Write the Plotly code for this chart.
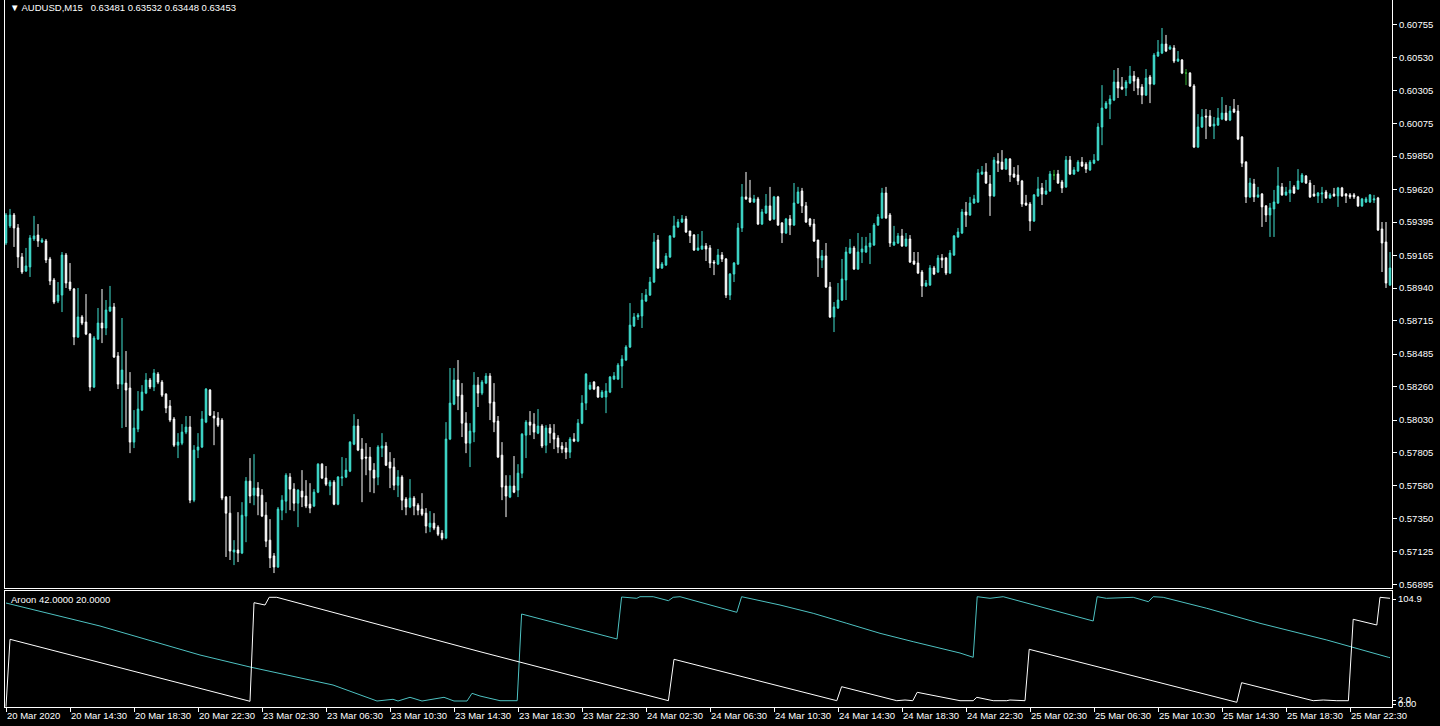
import plotly.graph_objects as go

# ---------------- data (prices in points, 1 point = 0.00001) ----------------
OPEN_PTS = [
    59251, 59369, 59444, 59355, 59155, 59058, 59086, 59279, 59306, 59258,
    59265, 59141, 58996, 58851, 58892, 59168, 58982, 58934, 58603, 58741,
    58706, 58623, 58258, 58589, 58699, 58665, 58782, 58810, 58472, 58278,
    58285, 58251, 57878, 57968, 58099, 58216, 58306, 58258, 58347, 58292,
    58209, 58127, 58037, 57857, 57871, 57947, 57982, 57478, 57823, 57844,
    58016, 58237, 58058, 58044, 58030, 57499, 57388, 57120, 57134, 57113,
    57368, 57609, 57512, 57561, 57512, 57374, 57202, 57093, 57017, 57409,
    57471, 57637, 57554, 57457, 57540, 57506, 57450, 57437, 57533, 57726,
    57630, 57575, 57602, 57450, 57630, 57637, 57678, 57864, 57989, 57830,
    57775, 57775, 57685, 57637, 57837, 57851, 57740, 57706, 57581, 57637,
    57485, 57430, 57492, 57443, 57416, 57388, 57292, 57319, 57292, 57250,
    57216, 57899, 58140, 58306, 58202, 58009, 57871, 57947, 58271, 58216,
    58285, 58334, 58154, 58023, 57788, 57575, 57499, 57575, 57547, 57664,
    57926, 58016, 58002, 57940, 57989, 57857, 57975, 57940, 57906, 57851,
    57837, 57809, 57899, 57885, 58009, 58147, 58244, 58292, 58258, 58189,
    58189, 58223, 58313, 58313, 58403, 58444, 58534, 58679, 58741, 58748,
    58851, 58892, 58982, 59272, 59079, 59099, 59155, 59293, 59362, 59396,
    59417, 59334, 59306, 59203, 59210, 59231, 59217, 59120, 59106, 59168,
    59141, 58892, 59037, 59106, 59355, 59569, 59562, 59534, 59555, 59382,
    59458, 59507, 59417, 59569, 59389, 59320, 59417, 59375, 59527, 59610,
    59507, 59417, 59382, 59272, 59134, 59162, 58948, 58741, 58803, 58858,
    58996, 59182, 59217, 59072, 59189, 59189, 59224, 59237, 59375, 59424,
    59596, 59444, 59237, 59251, 59300, 59231, 59279, 59127, 59113, 59051,
    58955, 58961, 59079, 59051, 59148, 59148, 59044, 59168, 59293, 59320,
    59465, 59444, 59527, 59534, 59727, 59741, 59658, 59576, 59816, 59809,
    59761, 59830, 59727, 59720, 59679, 59527, 59520, 59403, 59576, 59631,
    59589, 59610, 59720, 59727, 59672, 59638, 59823, 59727, 59748, 59809,
    59795, 59755, 59802, 59823, 60051, 60182, 60209, 60237, 60361, 60327,
    60320, 60354, 60403, 60382, 60327, 60271, 60396, 60347, 60541, 60561,
    60623, 60589, 60596, 60506, 60513, 60423, 60423, 60334, 59913, 60051,
    60127, 60127, 60058, 60065, 60106, 60147, 60099, 60175, 60161, 59982,
    59809, 59569, 59658, 59569, 59589, 59507, 59444, 59486, 59527, 59638,
    59583, 59596, 59638, 59624, 59672, 59713, 59665, 59589, 59576, 59589,
    59603, 59562, 59589, 59576, 59631, 59589, 59583, 59583, 59569, 59507,
    59534, 59534, 59548, 59562, 59348, 59258, 58961,
]
HIGH_PTS = [
    59458, 59486, 59458, 59382, 59182, 59217, 59306, 59438, 59382, 59286,
    59279, 59155, 59010, 58982, 59189, 59182, 59113, 58941, 58941, 58754,
    58899, 58630, 58610, 58803, 58934, 58858, 58955, 58837, 58499, 58734,
    58506, 58361, 58099, 58230, 58271, 58354, 58320, 58382, 58361, 58306,
    58216, 58168, 58051, 57940, 58002, 58058, 58058, 57857, 57940, 58092,
    58251, 58244, 58092, 58085, 58044, 57506, 57506, 57202, 57395, 57464,
    57637, 57768, 57795, 57602, 57554, 57464, 57347, 57113, 57430, 57512,
    57664, 57664, 57595, 57554, 57685, 57616, 57595, 57554, 57733, 57733,
    57713, 57616, 57616, 57644, 57775, 57768, 57885, 58071, 58037, 57906,
    57871, 57844, 57733, 57857, 57940, 57878, 57809, 57768, 57685, 57650,
    57499, 57623, 57506, 57457, 57526, 57423, 57402, 57388, 57305, 57271,
    58016, 58389, 58389, 58444, 58285, 58085, 58009, 58361, 58327, 58306,
    58354, 58354, 58285, 58058, 57878, 57650, 57650, 57782, 57726, 57940,
    58030, 58092, 58078, 58106, 58002, 57995, 58002, 58002, 57926, 57878,
    57878, 57913, 57940, 58037, 58202, 58354, 58292, 58299, 58265, 58237,
    58285, 58334, 58361, 58423, 58478, 58547, 58837, 58768, 58768, 58906,
    58934, 59017, 59320, 59306, 59120, 59182, 59306, 59438, 59417, 59444,
    59438, 59334, 59313, 59313, 59334, 59251, 59237, 59134, 59210, 59189,
    59148, 59044, 59120, 59389, 59658, 59741, 59686, 59583, 59569, 59486,
    59589, 59638, 59576, 59576, 59396, 59424, 59444, 59665, 59638, 59631,
    59534, 59424, 59417, 59272, 59203, 59251, 58982, 58844, 58975, 59141,
    59224, 59279, 59231, 59320, 59293, 59293, 59320, 59389, 59451, 59631,
    59638, 59458, 59369, 59320, 59348, 59320, 59306, 59189, 59189, 59065,
    58996, 59099, 59093, 59168, 59175, 59155, 59203, 59306, 59355, 59486,
    59534, 59569, 59583, 59761, 59782, 59802, 59720, 59844, 59871, 59892,
    59837, 59837, 59775, 59788, 59686, 59583, 59534, 59589, 59707, 59665,
    59686, 59748, 59755, 59755, 59686, 59851, 59851, 59775, 59823, 59844,
    59809, 59823, 59864, 60078, 60340, 60230, 60271, 60444, 60458, 60396,
    60375, 60472, 60437, 60396, 60347, 60451, 60410, 60561, 60651, 60734,
    60686, 60616, 60616, 60575, 60520, 60451, 60430, 60347, 60140, 60175,
    60175, 60168, 60120, 60182, 60258, 60203, 60196, 60244, 60203, 59989,
    59816, 59700, 59693, 59638, 59596, 59513, 59527, 59617, 59775, 59665,
    59638, 59679, 59651, 59761, 59734, 59720, 59686, 59651, 59603, 59638,
    59617, 59596, 59631, 59638, 59638, 59596, 59596, 59596, 59576, 59562,
    59569, 59589, 59583, 59569, 59396, 59396, 59189,
]
LOW_PTS = [
    59237, 59355, 59224, 59079, 59037, 59051, 59017, 59265, 59224, 59251,
    59113, 58961, 58830, 58837, 58775, 58941, 58920, 58547, 58596, 58685,
    58616, 58230, 58251, 58582, 58561, 58616, 58775, 58458, 58244, 57975,
    57982, 57802, 57837, 57947, 58092, 58209, 58244, 58230, 58278, 58189,
    58078, 58016, 57844, 57768, 57857, 57933, 57457, 57464, 57768, 57837,
    58009, 58058, 57857, 57982, 57478, 57086, 57065, 57030, 57051, 57106,
    57188, 57457, 57443, 57374, 57361, 57154, 57010, 56975, 57010, 57340,
    57388, 57409, 57402, 57292, 57430, 57423, 57388, 57430, 57526, 57623,
    57575, 57512, 57443, 57443, 57575, 57630, 57671, 57857, 57816, 57464,
    57650, 57533, 57526, 57581, 57775, 57713, 57561, 57547, 57499, 57409,
    57374, 57423, 57374, 57374, 57368, 57250, 57257, 57271, 57230, 57202,
    57209, 57892, 58133, 58099, 57913, 57802, 57706, 57878, 58120, 58202,
    58278, 58030, 57947, 57768, 57478, 57361, 57492, 57526, 57499, 57630,
    57768, 57926, 57899, 57933, 57837, 57802, 57871, 57830, 57802, 57802,
    57761, 57768, 57878, 57878, 58002, 58099, 58237, 58237, 58182, 58182,
    58078, 58216, 58306, 58306, 58251, 58437, 58527, 58672, 58720, 58665,
    58844, 58886, 58975, 59072, 59072, 59093, 59148, 59286, 59355, 59389,
    59320, 59251, 59196, 59196, 59203, 59127, 59079, 59030, 59099, 59120,
    58872, 58858, 58982, 59099, 59327, 59548, 59527, 59527, 59375, 59375,
    59451, 59403, 59410, 59369, 59251, 59313, 59306, 59369, 59520, 59458,
    59389, 59362, 59258, 59017, 59079, 58941, 58734, 58637, 58796, 58851,
    58858, 59175, 59065, 59065, 59113, 59182, 59106, 59231, 59369, 59417,
    59417, 59224, 59231, 59244, 59224, 59224, 59113, 59099, 59037, 58879,
    58948, 58955, 59030, 59044, 59079, 59030, 59037, 59162, 59286, 59313,
    59362, 59438, 59520, 59527, 59720, 59658, 59438, 59569, 59741, 59755,
    59755, 59672, 59700, 59651, 59500, 59507, 59334, 59396, 59569, 59513,
    59583, 59603, 59686, 59658, 59596, 59631, 59720, 59720, 59741, 59775,
    59734, 59748, 59795, 59816, 59926, 60175, 60106, 60230, 60251, 60306,
    60265, 60347, 60299, 60271, 60209, 60265, 60216, 60340, 60534, 60554,
    60568, 60582, 60492, 60499, 60416, 60340, 60327, 59906, 59906, 60044,
    59968, 60051, 59968, 60058, 60099, 60092, 60092, 60147, 59961, 59775,
    59527, 59562, 59534, 59562, 59362, 59396, 59293, 59293, 59520, 59576,
    59576, 59534, 59589, 59617, 59665, 59658, 59562, 59569, 59527, 59527,
    59555, 59555, 59569, 59500, 59569, 59527, 59555, 59555, 59500, 59500,
    59527, 59527, 59527, 59334, 59051, 58941, 58955,
]
CLOSE_PTS = [
    59444, 59444, 59355, 59155, 59051, 59093, 59286, 59300, 59265, 59272,
    59134, 58989, 58844, 58892, 59168, 58975, 58934, 58603, 58741, 58699,
    58623, 58258, 58596, 58699, 58665, 58789, 58810, 58465, 58278, 58375,
    58237, 57878, 57975, 58106, 58223, 58306, 58258, 58354, 58292, 58202,
    58113, 58030, 57857, 57878, 57947, 57982, 57478, 57823, 57844, 58037,
    58244, 58064, 58044, 57995, 57492, 57388, 57127, 57134, 57113, 57374,
    57609, 57506, 57561, 57506, 57368, 57195, 57079, 57017, 57416, 57478,
    57650, 57554, 57457, 57547, 57499, 57437, 57423, 57533, 57726, 57630,
    57588, 57602, 57450, 57637, 57637, 57685, 57878, 57989, 57823, 57761,
    57768, 57685, 57630, 57844, 57851, 57719, 57699, 57581, 57637, 57478,
    57430, 57492, 57437, 57409, 57381, 57299, 57319, 57285, 57243, 57216,
    57899, 58147, 58306, 58196, 58009, 57871, 57954, 58271, 58216, 58292,
    58334, 58147, 58016, 57775, 57568, 57506, 57575, 57533, 57664, 57933,
    58016, 57995, 57947, 57989, 57851, 57975, 57940, 57899, 57844, 57830,
    57809, 57899, 57885, 58009, 58147, 58347, 58271, 58244, 58189, 58223,
    58230, 58327, 58334, 58409, 58451, 58534, 58685, 58741, 58754, 58858,
    58892, 58982, 59258, 59079, 59106, 59162, 59300, 59369, 59396, 59417,
    59327, 59300, 59203, 59217, 59231, 59210, 59113, 59113, 59168, 59141,
    58892, 59037, 59113, 59355, 59569, 59555, 59534, 59555, 59382, 59465,
    59507, 59410, 59569, 59375, 59320, 59417, 59375, 59527, 59603, 59507,
    59396, 59375, 59265, 59148, 59162, 58948, 58741, 58810, 58858, 59003,
    59189, 59217, 59072, 59189, 59210, 59231, 59251, 59375, 59431, 59596,
    59424, 59251, 59258, 59300, 59231, 59279, 59120, 59106, 59044, 58955,
    58975, 59079, 59037, 59148, 59134, 59044, 59182, 59300, 59327, 59465,
    59444, 59527, 59555, 59734, 59741, 59665, 59576, 59823, 59802, 59761,
    59830, 59720, 59706, 59679, 59520, 59513, 59403, 59583, 59624, 59589,
    59610, 59727, 59720, 59665, 59631, 59823, 59727, 59755, 59809, 59782,
    59761, 59809, 59823, 60051, 60182, 60216, 60244, 60361, 60320, 60313,
    60361, 60403, 60368, 60320, 60271, 60389, 60347, 60547, 60568, 60623,
    60575, 60603, 60506, 60520, 60423, 60423, 60334, 59913, 60051, 60120,
    60120, 60058, 60071, 60113, 60147, 60099, 60161, 60154, 59968, 59802,
    59569, 59665, 59569, 59583, 59500, 59444, 59493, 59534, 59645, 59583,
    59603, 59617, 59596, 59679, 59720, 59665, 59569, 59576, 59596, 59596,
    59562, 59583, 59576, 59631, 59576, 59576, 59569, 59569, 59507, 59555,
    59555, 59583, 59555, 59341, 59251, 58975, 59079,
]

# Aroon indicator (line vertices: bar index, value)
AROON_UP_BARS = [0, 23.5, 48.5, 61, 81.75, 92.75, 96.75, 98, 101, 104, 109.5, 112, 115.25,
                 116.5, 118.5, 123.5, 127.8, 128.9, 152.75, 153.9, 157.7, 158.5, 161.8, 165.6,
                 166.8, 168.5, 182.7, 183.9, 193.5, 201.8, 210.2, 218.5, 226.8, 238.5, 241.8,
                 242.8, 246, 249.3, 271.8, 272.8, 275.1, 281.8, 285.6, 286.8, 289.3, 300.2,
                 313.5, 330.2, 345.6, 346]
AROON_UP_VALS = [101, 78, 49, 37, 19, 3, 4.7, 3, 6.7, 3, 6.7, 3, 3,
                 10.7, 8, 3.3, 3.3, 90, 65, 107, 105.7, 107.3, 107.3, 103.3,
                 106.7, 107.3, 91.7, 107.3, 99, 90.7, 80.7, 70.7, 62.3, 51, 46.7,
                 107.3, 105.7, 107.3, 83, 107.3, 105.7, 106.7, 102.3, 107.3, 106.7, 95.7,
                 80.7, 64, 46.7, 46.3]
AROON_DN_BARS = [0, 1, 61, 62, 64.75, 65.8, 67.7, 118.5, 165.6, 167, 207.7, 208.9, 222.7,
                 224.75, 226.7, 227.8, 238.5, 241.8, 242.7, 246.8, 250.2, 251, 254.75, 255.8,
                 307.7, 308.9, 326.8, 329.3, 332.7, 335.6, 336.8, 342.7, 343.5, 345.6, 346]
AROON_DN_VALS = [-2.7, 64.7, 2.7, 101.3, 99, 106.7, 106.7, 52.3, 3.3, 44.7, 3.3, 17.3, 3.3,
                 4, 3.3, 11.7, 3.3, 3.3, 6.7, 3.3, 3.3, 4, 3.3, 54.7,
                 1.7, 21.3, 3.3, 4, 3.3, 3.3, 84.7, 79, 106.7, 105.7, 105.7]

X_TICK_LABELS = ["20 Mar 2020", "20 Mar 14:30", "20 Mar 18:30", "20 Mar 22:30",
                 "23 Mar 02:30", "23 Mar 06:30", "23 Mar 10:30", "23 Mar 14:30",
                 "23 Mar 18:30", "23 Mar 22:30", "24 Mar 02:30", "24 Mar 06:30",
                 "24 Mar 10:30", "24 Mar 14:30", "24 Mar 18:30", "24 Mar 22:30",
                 "25 Mar 02:30", "25 Mar 06:30", "25 Mar 10:30", "25 Mar 14:30",
                 "25 Mar 18:30", "25 Mar 22:30"]
BARS_PER_LABEL = 16
PRICE_TICKS = [0.60755, 0.60530, 0.60305, 0.60075, 0.59850, 0.59620, 0.59395, 0.59165,
               0.58940, 0.58715, 0.58485, 0.58260, 0.58030, 0.57805, 0.57580, 0.57350,
               0.57125, 0.56895]
AROON_TICK_VALS = [105, 4, 0]
AROON_TICK_TEXT = ["104.9", "2.0", "0.00"]
HEADER = "\u25BC AUDUSD,M15\u00a0\u00a0 0.63481 0.63532 0.63448 0.63453"
IND_LABEL = "Aroon 42.0000 20.0000"

# ---------------- build ----------------
opens = [v / 1e5 for v in OPEN_PTS]
highs = [v / 1e5 for v in HIGH_PTS]
lows = [v / 1e5 for v in LOW_PTS]
closes = [v / 1e5 for v in CLOSE_PTS]
bars = list(range(len(closes)))

doji = [i for i in bars if OPEN_PTS[i] == CLOSE_PTS[i]]
normal = [i for i in bars if OPEN_PTS[i] != CLOSE_PTS[i]]

TEAL = "#40E0D0"
AROON_TEAL = "#4EC2C2"
WHITE = "#FFFFFF"
GREEN = "#32B432"
FONT = "Liberation Sans, DejaVu Sans, Arial"
FS = 9.5

fig = go.Figure()
fig.add_trace(go.Candlestick(
    x=[bars[i] for i in normal],
    open=[opens[i] for i in normal], high=[highs[i] for i in normal],
    low=[lows[i] for i in normal], close=[closes[i] for i in normal],
    increasing=dict(line=dict(color=TEAL, width=1), fillcolor=TEAL),
    decreasing=dict(line=dict(color=WHITE, width=1), fillcolor=WHITE),
    whiskerwidth=0, showlegend=False, hoverinfo="skip", xaxis="x", yaxis="y"))
fig.add_trace(go.Candlestick(
    x=[bars[i] for i in doji],
    open=[opens[i] for i in doji], high=[highs[i] for i in doji],
    low=[lows[i] for i in doji], close=[closes[i] for i in doji],
    increasing=dict(line=dict(color=GREEN, width=1), fillcolor=GREEN),
    decreasing=dict(line=dict(color=GREEN, width=1), fillcolor=GREEN),
    whiskerwidth=0, showlegend=False, hoverinfo="skip", xaxis="x", yaxis="y"))

fig.add_trace(go.Scatter(x=AROON_UP_BARS, y=AROON_UP_VALS, mode="lines",
                         line=dict(color=AROON_TEAL, width=1), showlegend=False,
                         hoverinfo="skip", xaxis="x2", yaxis="y2"))
fig.add_trace(go.Scatter(x=AROON_DN_BARS, y=AROON_DN_VALS, mode="lines",
                         line=dict(color=WHITE, width=1), showlegend=False,
                         hoverinfo="skip", xaxis="x2", yaxis="y2"))

W, H = 1440, 726
ML, MR, MT, MB = 5, 48, 0, 19
PH = H - MT - MB  # 707
main_bottom_px = 588
ind_top_px = 591
main_dom = [(PH - main_bottom_px) / PH, 1]
ind_dom = [0, (PH - ind_top_px) / PH]

xr = [-0.25, len(closes) - 0.5]
axis_common = dict(showgrid=False, zeroline=False, linecolor=WHITE, linewidth=1,
                   tickcolor=WHITE, tickfont=dict(color=WHITE, size=FS, family=FONT))

fig.update_layout(
    width=W, height=H,
    margin=dict(l=ML, r=MR, t=MT, b=MB, autoexpand=False),
    paper_bgcolor="#000000", plot_bgcolor="#000000",
    boxgap=0.45,
    hovermode=False,
    xaxis=dict(domain=[0, 1], anchor="y", range=xr, showticklabels=False, ticks="",
               showline=True, rangeslider=dict(visible=False), **axis_common),
    yaxis=dict(domain=main_dom, anchor="x", side="right",
               range=[0.56872, 0.60927], tickmode="array",
               tickvals=PRICE_TICKS, ticktext=[f"{v:.5f}" for v in PRICE_TICKS],
               ticks="outside", ticklen=4, showline=True, mirror=True, **axis_common),
    xaxis2=dict(domain=[0, 1], anchor="y2", range=xr, matches="x", tickmode="array",
                tickvals=[k * BARS_PER_LABEL for k in range(len(X_TICK_LABELS))],
                ticktext=X_TICK_LABELS, ticks="outside", ticklen=4, tickangle=0,
                ticklabelposition="outside right",
                showline=True, mirror=True, **axis_common),
    yaxis2=dict(domain=ind_dom, anchor="x2", side="right", range=[-3, 113],
                tickmode="array", tickvals=AROON_TICK_VALS, ticktext=AROON_TICK_TEXT,
                ticks="outside", ticklen=3, showline=True, mirror=True, **axis_common),
    annotations=[
        dict(text=HEADER, xref="paper", yref="paper", x=(8 - ML) / (W - ML - MR),
             y=(PH - 7) / PH, xanchor="left", yanchor="middle", showarrow=False,
             font=dict(color=WHITE, size=FS, family=FONT)),
        dict(text=IND_LABEL, xref="paper", yref="paper", x=(9 - ML) / (W - ML - MR),
             y=(PH - 599) / PH, xanchor="left", yanchor="middle", showarrow=False,
             font=dict(color=WHITE, size=FS, family=FONT)),
    ],
)

fig.write_html(
    "out.html",
    config={"displayModeBar": False},
    post_script="document.body.style.margin='0px';document.body.style.overflow='hidden';",
)
